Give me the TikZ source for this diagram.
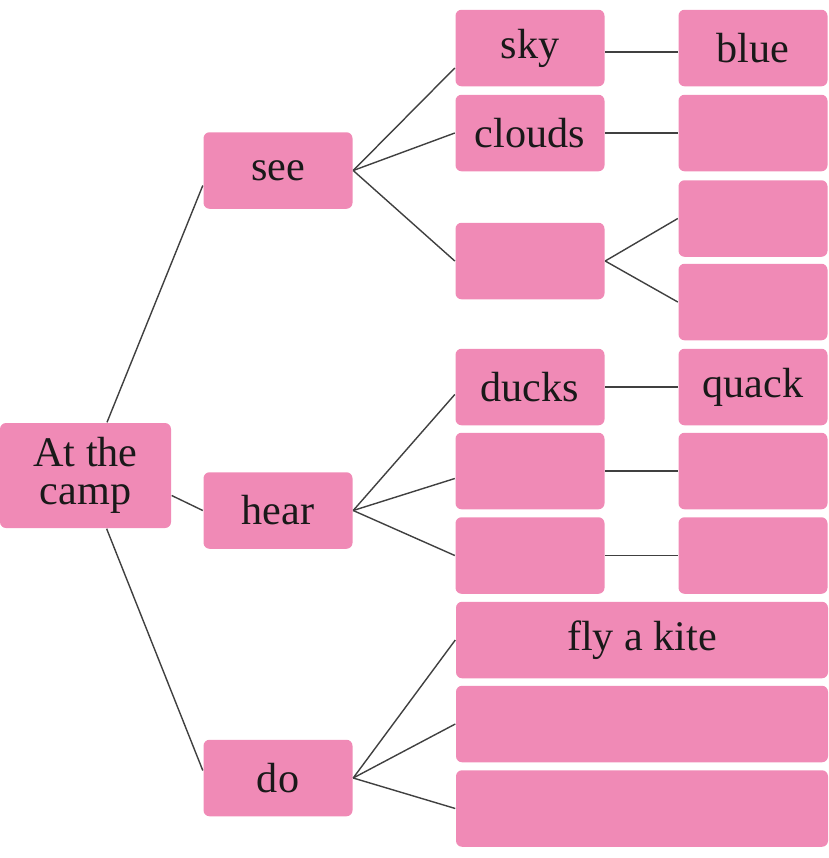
\documentclass[tikz,border=0pt]{standalone}
\usepackage{fontspec}
\setmainfont{Liberation Serif}
\definecolor{boxpink}{RGB}{240,138,182}
\begin{document}
\begin{tikzpicture}[line width=0.8pt,
    box/.style={rectangle,rounded corners=1.2mm,fill=boxpink,text=black!90,
      minimum width=2.98cm,minimum height=1.53cm,inner sep=0pt,
      font=\fontsize{24}{21.6}\selectfont,align=center},
    wide/.style={box,minimum width=7.44cm},
    link/.style={draw=black!75}]
  \useasboundingbox (0,0) rectangle (16.58,-17.16);
  % first and second column
  \node[box,minimum width=3.42cm,minimum height=2.1cm] (camp) at (1.71,-9.51) {At the\\camp};
  \node[box] (see) at (5.56,-3.41) {see};
  \node[box] (hear) at (5.56,-10.21) {hear};
  \node[box] (do) at (5.56,-15.56) {do};
  % see
  \node[box] (sky) at (10.6,-0.96) {sky};
  \node[box] (clouds) at (10.6,-2.66) {clouds};
  \node[box] (see3) at (10.6,-5.22) {};
  \node[box] (blue) at (15.06,-0.96) {blue};
  \node[box] (clouds2) at (15.06,-2.66) {};
  \node[box] (see3a) at (15.06,-4.37) {};
  \node[box] (see3b) at (15.06,-6.04) {};
  % hear
  \node[box] (ducks) at (10.6,-7.74) {ducks};
  \node[box] (hear2) at (10.6,-9.42) {};
  \node[box] (hear3) at (10.6,-11.11) {};
  \node[box] (quack) at (15.06,-7.74) {quack};
  \node[box] (hear2a) at (15.06,-9.42) {};
  \node[box] (hear3a) at (15.06,-11.11) {};
  % do
  \node[wide] (kite) at (12.84,-12.8) {fly a kite};
  \node[wide] (do2) at (12.84,-14.48) {};
  \node[wide] (do3) at (12.84,-16.17) {};
  % lines
  \draw[link] (camp) -- ([yshift=-3mm]see.west);
  \draw[link] ([yshift=-4mm]camp.east) -- (hear.west);
  \draw[link] (camp) -- ([yshift=1.5mm]do.west);
  \draw[link] (see.east) -- ([yshift=-4mm]sky.west);
  \draw[link] (see.east) -- (clouds.west);
  \draw[link] (see.east) -- (see3.west);
  \draw[link] ([yshift=-0.8mm]sky.east) -- ([yshift=-0.8mm]blue.west);
  \draw[link] (clouds) -- (clouds2);
  \draw[link] (see3.east) -- (see3a.west);
  \draw[link] (see3.east) -- (see3b.west);
  \draw[link] (hear.east) -- ([yshift=-1.5mm]ducks.west);
  \draw[link] (hear.east) -- ([yshift=-1.5mm]hear2.west);
  \draw[link] (hear.east) -- (hear3.west);
  \draw[link] (ducks) -- (quack);
  \draw[link] (hear2) -- (hear2a);
  \draw[link] (hear3) -- (hear3a);
  \draw[link] (do.east) -- (kite.west);
  \draw[link] (do.east) -- (do2.west);
  \draw[link] (do.east) -- (do3.west);
\end{tikzpicture}
\end{document}
